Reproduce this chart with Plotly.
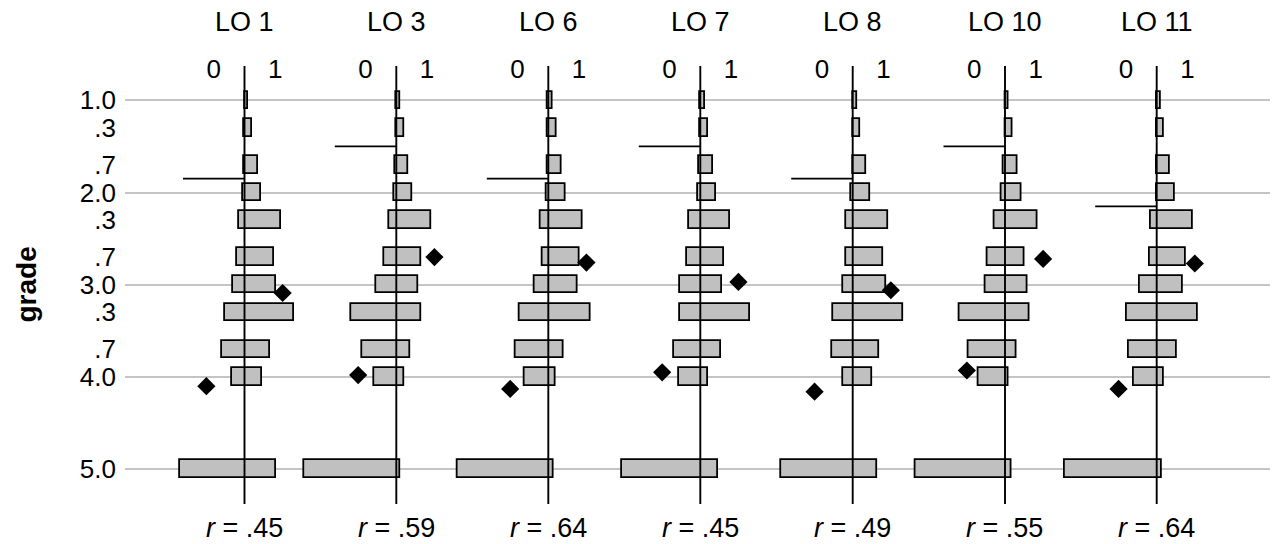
import plotly.graph_objects as go

# ---------------- data ----------------
panels = ["LO 1", "LO 3", "LO 6", "LO 7", "LO 8", "LO 10", "LO 11"]
grades = [1.0, 1.3, 1.7, 2.0, 2.3, 2.7, 3.0, 3.3, 3.7, 4.0, 5.0]
grade_labels = ["1.0", ".3", ".7", "2.0", ".3", ".7", "3.0", ".3", ".7", "4.0", "5.0"]
grid_grades = [1, 2, 3, 4, 5]

bar_left = [
    [0.50, 0.49, 0.49, 0.47, 0.41, 0.37, 0.31, 0.18, 0.13, 0.30, -0.55],
    [0.50, 0.50, 0.48, 0.46, 0.38, 0.31, 0.17, -0.24, -0.05, 0.14, -1.00],
    [0.49, 0.49, 0.49, 0.47, 0.38, 0.40, 0.28, 0.04, -0.04, 0.12, -0.98],
    [0.50, 0.50, 0.48, 0.46, 0.31, 0.28, 0.17, 0.17, 0.07, 0.15, -0.77],
    [0.50, 0.50, 0.50, 0.47, 0.40, 0.40, 0.35, 0.18, 0.16, 0.34, -0.67],
    [0.50, 0.50, 0.47, 0.45, 0.33, 0.21, 0.18, -0.24, -0.10, 0.07, -0.95],
    [0.50, 0.50, 0.50, 0.50, 0.40, 0.38, 0.22, 0.02, 0.05, 0.12, -0.99],
]
bar_right = [
    [0.56, 0.62, 0.72, 0.77, 1.09, 0.98, 1.01, 1.31, 0.91, 0.78, 1.01],
    [0.57, 0.63, 0.70, 0.76, 1.06, 0.90, 0.86, 0.90, 0.72, 0.63, 0.56],
    [0.57, 0.63, 0.72, 0.78, 1.06, 1.00, 0.98, 1.18, 0.74, 0.61, 0.58],
    [0.57, 0.62, 0.70, 0.76, 0.98, 0.88, 0.86, 1.30, 0.84, 0.63, 0.79],
    [0.57, 0.62, 0.72, 0.78, 1.07, 1.00, 1.05, 1.32, 0.93, 0.82, 0.90],
    [0.56, 0.62, 0.70, 0.76, 1.02, 0.82, 0.87, 0.90, 0.68, 0.56, 0.61],
    [0.57, 0.62, 0.72, 0.80, 1.08, 0.98, 0.92, 1.16, 0.83, 0.61, 0.59],
]
diamond_x = [1.12, -0.12]
diamond_grades = [
    [3.09, 4.10],
    [2.70, 3.98],
    [2.76, 4.13],
    [2.97, 3.95],
    [3.06, 4.16],
    [2.72, 3.93],
    [2.77, 4.13],
]
threshold_grade = [1.85, 1.5, 1.85, 1.5, 1.85, 1.5, 2.15]
threshold_x = [-0.5, 0.5]
center_x = 0.5
r_values = [".45", ".59", ".64", ".45", ".49", ".55", ".64"]

# ---------------- layout geometry ----------------
# page body has an 8px margin, so the figure is drawn 8px smaller and shifted
OFF = 8
W, H = 1278 - OFF, 544 - OFF
ML, MR = 125 - OFF, 0
PW = W - ML - MR
px_per_unit = 61.5
centers_px = [c - OFF for c in [244.5, 396.3, 548.3, 700.3, 852.7, 1005.0, 1156.7]]
plot_top_px, plot_bot_px = 66 - OFF, 504 - OFF
y_top_grade, y_bot_grade = 0.628, 5.378

FONT = "Liberation Sans, Arial, sans-serif"

fig = go.Figure()
n = len(panels)

# subplot boundaries placed between the right extent of one panel and the left extent of the next
def right_extent(i):
    mx = max(max(bar_right[i]), max(diamond_x) + 0.12)
    return centers_px[i] + (mx - center_x) * px_per_unit

def left_extent(i):
    mn = min(min(bar_left[i]), min(diamond_x) - 0.12, min(threshold_x))
    return centers_px[i] - (center_x - mn) * px_per_unit

bounds = [ML] + [(right_extent(i) + left_extent(i + 1)) / 2 for i in range(n - 1)] + [W - MR]

for i in range(n):
    xa = "x" if i == 0 else f"x{i+1}"
    lp, rp = bounds[i], bounds[i + 1]
    c = centers_px[i]
    rng = [center_x - (c - lp) / px_per_unit, center_x + (rp - c) / px_per_unit]
    axname = "xaxis" if i == 0 else f"xaxis{i+1}"
    fig.layout[axname] = dict(
        domain=[(lp - ML) / PW, (rp - ML) / PW],
        range=rng,
        anchor="free",
        position=(H - 75) / H,
        side="top",
        tickvals=[0, 1],
        showgrid=False,
        zeroline=False,
        showline=False,
        ticks="",
        tickfont=dict(family=FONT, size=26, color="black"),
        fixedrange=True,
    )
    widths = [r - l for l, r in zip(bar_left[i], bar_right[i])]
    fig.add_trace(go.Bar(
        x=widths, base=bar_left[i], y=grades, orientation="h", width=0.19,
        marker=dict(color="#c0c0c0", line=dict(color="black", width=1.8)),
        xaxis=xa, yaxis="y", showlegend=False, hoverinfo="skip",
    ))
    fig.add_trace(go.Scatter(
        x=threshold_x, y=[threshold_grade[i]] * 2, mode="lines",
        line=dict(color="black", width=1.7),
        xaxis=xa, yaxis="y", showlegend=False, hoverinfo="skip",
    ))
    fig.add_trace(go.Scatter(
        x=diamond_x, y=diamond_grades[i], mode="markers",
        marker=dict(symbol="diamond", size=14, color="black"),
        xaxis=xa, yaxis="y", showlegend=False, hoverinfo="skip",
    ))
    fig.add_shape(type="line", xref=xa, yref="y domain", x0=center_x, x1=center_x,
                  y0=0, y1=1, line=dict(color="black", width=1.9), layer="above")
    fig.add_annotation(text=panels[i], xref=xa, yref="paper", x=center_x,
                       y=(H - (22 - OFF)) / H, showarrow=False, xanchor="center", yanchor="middle",
                       font=dict(family=FONT, size=27, color="black"))
    fig.add_annotation(text=f"<i>r</i> = {r_values[i]}", xref=xa, yref="paper", x=center_x,
                       y=(H - (528 - OFF)) / H, showarrow=False, xanchor="center", yanchor="middle",
                       font=dict(family=FONT, size=27, color="black"))

fig.update_layout(
    width=W, height=H,
    margin=dict(l=ML, r=MR, t=0, b=0, pad=0),
    plot_bgcolor="white", paper_bgcolor="white",
    yaxis=dict(
        domain=[(H - plot_bot_px) / H, (H - plot_top_px) / H],
        range=[y_bot_grade, y_top_grade],
        tickvals=grades, ticktext=grade_labels,
        showgrid=False, zeroline=False, showline=False, ticks="",
        ticklabelstandoff=8,
        tickfont=dict(family=FONT, size=26, color="black"),
        minor=dict(tickvals=grid_grades, showgrid=True, gridcolor="#c4c4c4", gridwidth=1.8, ticks=""),
        anchor="x",
        fixedrange=True,
    ),
    bargap=0,
)
fig.add_annotation(text="<b>grade</b>", xref="paper", yref="paper",
                   x=-(ML - (25.5 - OFF)) / PW, y=(H - (285 - OFF)) / H, textangle=-90,
                   showarrow=False, xanchor="center", yanchor="middle",
                   font=dict(family=FONT, size=28, color="black"))

fig.write_html("out.html")
